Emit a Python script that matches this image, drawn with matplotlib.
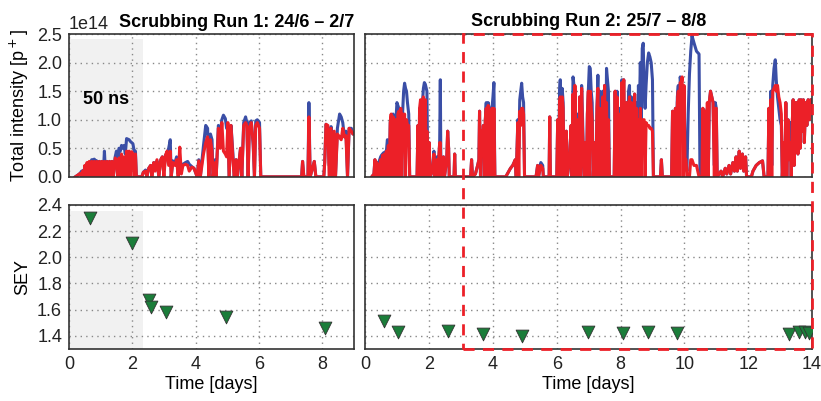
import matplotlib
matplotlib.use("Agg")
import matplotlib.pyplot as plt
from matplotlib.patches import Rectangle

# Run 1 intensity trace: time [days], blue beam, red beam (units of 1e14 p+)
t1 = [0.20, 0.28, 0.35, 0.40, 0.43, 0.47, 0.50, 0.54, 0.57, 0.61, 0.64, 0.68, 0.72, 0.76,
      0.80, 0.84, 0.88, 0.92, 0.96, 1.00, 1.04, 1.08, 1.12, 1.16, 1.20, 1.24, 1.28, 1.32,
      1.36, 1.40, 1.46, 1.50, 1.54, 1.58, 1.62, 1.66, 1.70, 1.74, 1.78, 1.82, 1.86, 1.90,
      1.94, 1.98, 2.02, 2.06, 2.10, 2.13,
      2.30, 2.35, 2.42, 2.46,
      2.52, 2.58, 2.62, 2.68, 2.72, 2.78, 2.84, 2.90, 2.95, 3.00, 3.05, 3.10, 3.15, 3.20,
      3.23, 3.28, 3.35, 3.40, 3.45, 3.50, 3.55, 3.60, 3.68, 3.75, 3.80, 3.88, 3.95, 4.05,
      4.10, 4.15, 4.25, 4.32, 4.38, 4.42, 4.47, 4.52, 4.55, 4.62, 4.65, 4.72, 4.78, 4.83,
      4.88, 4.94, 4.98, 5.02, 5.06, 5.12, 5.18, 5.22, 5.28, 5.32, 5.42, 5.46, 5.52, 5.58,
      5.62, 5.66, 5.70, 5.76, 5.82, 5.86, 5.90, 5.95, 6.02, 6.06, 7.35, 7.38, 7.42, 7.55,
      7.58, 7.62, 7.75, 7.80, 8.05, 8.08, 8.12, 8.18, 8.22, 8.28, 8.32, 8.38, 8.42, 8.48,
      8.55, 8.60, 8.65, 8.70, 8.75, 8.80, 8.85, 8.92, 8.97, 9.00]
b1 = [0, 0.03, 0.06, 0.10, 0.10, 0.12, 0.12, 0.15, 0.18, 0.20, 0.22, 0.25, 0.30, 0.30,
      0.31, 0.28, 0.28, 0.10, 0.27, 0, 0.27, 0, 0.45, 0, 0.27, 0, 0.27, 0,
      0.27, 0, 0.35, 0.45, 0, 0.50, 0.45, 0.55, 0.50, 0.55, 0.40, 0.67, 0.66, 0.65,
      0.62, 0.60, 0.58, 0.45, 0.45, 0,
      0, 0.08, 0.12, 0,
      0.15, 0.20, 0.05, 0.25, 0.15, 0.28, 0, 0.30, 0.35, 0.10, 0.38, 0.42, 0.50, 0.65,
      0, 0.28, 0.25, 0.35, 0.05, 0.30, 0.20, 0.22, 0.25, 0.27, 0.22, 0.18, 0.15, 0,
      0.30, 0, 0.55, 0.90, 0.85, 0, 0.75, 0.65, 0, 0.30, 0, 0.90, 0.75, 1.00,
      1.08, 1.02, 0.85, 0.90, 0, 0.90, 0.40, 0, 0.30, 0, 0.50, 0, 0.95, 1.05,
      0.95, 0, 0.95, 0.98, 0.55, 0, 0.98, 1.00, 0.95, 0, 0, 0.27, 0, 0,
      1.30, 0, 0.27, 0, 0, 0.25, 0.92, 0.85, 0.20, 0.88, 0, 0.75, 0, 0.85,
      1.10, 1.05, 0.95, 0.70, 0.80, 0, 0.85, 0.85, 0.75, 0.75]
r1 = [0, 0.03, 0.06, 0, 0.10, 0, 0.20, 0, 0.25, 0, 0.27, 0, 0.27, 0,
      0.27, 0, 0.27, 0, 0.27, 0, 0.27, 0, 0.27, 0, 0.27, 0, 0.27, 0,
      0.27, 0, 0.33, 0.30, 0, 0.33, 0, 0.40, 0, 0.35, 0, 0.45, 0, 0.45,
      0, 0.44, 0.40, 0, 0.40, 0,
      0, 0.08, 0.10, 0,
      0.15, 0.20, 0, 0.25, 0.10, 0.30, 0, 0.30, 0.35, 0, 0.38, 0.45, 0.20, 0.45,
      0, 0.25, 0.20, 0.30, 0, 0.52, 0.05, 0.20, 0.22, 0.20, 0.10, 0.17, 0.15, 0,
      0.28, 0, 0.40, 0.60, 0.70, 0, 0.65, 0.45, 0, 0.25, 0, 0.85, 0.50, 0.95,
      0.45, 0.40, 0.35, 0.95, 0, 0.90, 0.30, 0, 0.30, 0, 0.50, 0, 0.90, 0.95,
      0.90, 0, 0.85, 0.95, 0.60, 0, 0.90, 0.95, 0.85, 0, 0, 0.27, 0, 0,
      1.05, 0, 0.27, 0, 0, 0.25, 0.92, 0.90, 0, 0.85, 0, 0.80, 0, 0.75,
      0.70, 0.65, 0.85, 0.70, 0.72, 0, 0.85, 0.80, 0.75, 0.75]

# Run 2 intensity trace, written burst by burst
t2 = [0.20, 0.27, 0.30, 0.33, 0.36, 0.38, 0.42, 0.45, 0.48, 0.51, 0.54, 0.57, 0.60, 0.63,
      0.66, 0.69, 0.72, 0.75, 0.78, 0.81, 0.84, 0.87, 0.90, 0.93, 0.96, 0.99, 1.02, 1.05,
      1.08, 1.11, 1.14, 1.17, 1.20, 1.23, 1.26, 1.29, 1.32, 1.36, 1.39,
      1.62, 1.65, 1.68, 1.70, 1.73, 1.76, 1.79, 1.82, 1.85, 1.88, 1.91, 1.93, 1.96, 2.00,
      2.03, 2.10, 2.15, 2.17, 2.24, 2.27, 2.33, 2.35, 2.37, 2.45, 2.48, 2.55, 2.58, 2.61,
      2.63, 2.78, 2.80, 2.82,
      3.30, 3.33, 3.36, 3.45, 3.52, 3.56, 3.58, 3.61, 3.64, 3.67, 3.70, 3.73, 3.76, 3.79,
      3.82, 3.85, 3.88, 3.91, 3.94, 3.97, 4.00, 4.03, 4.06,
      4.40, 4.45, 4.55, 4.62, 4.70, 4.73, 4.78, 4.81, 4.84, 4.87, 4.90, 4.93, 4.96, 4.99,
      5.35, 5.40, 5.43, 5.50, 5.56, 5.58, 5.76, 5.78, 5.80,
      6.00, 6.03, 6.06, 6.09, 6.11, 6.14, 6.17, 6.20, 6.23, 6.26, 6.30, 6.33, 6.40, 6.45,
      6.48, 6.51, 6.54, 6.57, 6.60, 6.63, 6.66, 6.69, 6.72, 6.75, 6.78, 6.81, 6.84, 6.87,
      6.90, 6.93, 6.96, 6.99, 7.02, 7.05, 7.08, 7.11, 7.14,
      7.20, 7.23, 7.26, 7.29, 7.32, 7.35, 7.38, 7.41, 7.44, 7.47, 7.50, 7.53, 7.56, 7.59,
      7.62, 7.65,
      7.80, 7.83, 7.86, 7.89, 7.92, 7.95, 7.98, 8.01, 8.04, 8.07, 8.10, 8.13, 8.16, 8.19,
      8.22, 8.25, 8.28, 8.31, 8.34, 8.37, 8.40, 8.44, 8.47, 8.50, 8.53, 8.56, 8.59, 8.62,
      8.65, 8.68, 8.71, 8.74, 8.77, 8.80, 8.84, 8.88, 8.92, 8.96, 9.00, 9.03, 9.25, 9.28,
      9.31,
      9.60, 9.63, 9.66, 9.69, 9.72, 9.75, 9.78, 9.81, 9.84, 9.87, 9.90, 9.93, 9.96, 9.99,
      10.02, 10.05, 10.08, 10.12, 10.16, 10.20, 10.24, 10.30, 10.38, 10.46, 10.49,
      10.55, 10.58, 10.61, 10.65, 10.68, 10.72, 10.75, 10.78, 10.82, 10.86, 10.90, 10.94, 10.97, 11.00,
      11.03,
      11.15, 11.20, 11.28, 11.33, 11.40, 11.45, 11.52, 11.57, 11.62, 11.66, 11.72, 11.76, 11.82, 11.86,
      11.92, 11.95, 12.10, 12.15, 12.25, 12.35, 12.45, 12.50,
      12.62, 12.65, 12.68, 12.71, 12.74, 12.77, 12.81, 12.85, 12.88, 12.92, 12.96, 13.00, 13.04, 13.07,
      13.12, 13.15, 13.18, 13.21, 13.25, 13.28, 13.32, 13.35, 13.38, 13.41, 13.44, 13.47, 13.50, 13.53,
      13.56, 13.60, 13.63, 13.66, 13.70, 13.73, 13.76, 13.80, 13.84, 13.88, 13.92, 13.96, 14.00]
b2 = [0, 0.05, 0.30, 0, 0.25, 0, 0.25, 0.30, 0.35, 0.38, 0.40, 0.42, 0.42, 0.44,
      0.45, 0.65, 0.60, 0, 0.95, 1.05, 0.5, 1.1, 1.0, 0, 1.0, 1.3, 1.25, 1.2,
      0.3, 1.1, 0, 1.15, 1.5, 1.64, 1.55, 1.5, 1.3, 1.1, 0,
      0, 0.9, 0, 1.2, 0.6, 0.3, 1.3, 1.55, 1.65, 1.62, 1.55, 1.5, 0, 0.6,
      0, 0.1, 0.45, 0, 0.35, 0, 0.6, 1.7, 0, 0.35, 0, 0.3, 0.8, 0.5,
      0, 0, 0.4, 0,
      0, 0.3, 0, 0.05, 0.2, 0.3, 1.15, 0, 0.8, 0.5, 0.9, 0, 1.0, 1.3,
      0, 1.3, 1.2, 1.2, 0, 1.2, 1.4, 1.65, 0,
      0, 0.05, 0.15, 0.2, 0.3, 0, 1.0, 0.5, 1.35, 1.5, 1.64, 1.4, 1.3, 0,
      0, 0.2, 0, 0.25, 0.2, 0, 0, 1.05, 0,
      0, 1.0, 0.4, 1.5, 1.7, 0.3, 1.55, 1.3, 0.1, 0.2, 0.8, 0, 0.3, 0.9,
      0, 1.75, 1.6, 1.5, 0.4, 0, 1.1, 0.3, 1.4, 0, 1.6, 1.0, 0.3, 0,
      0.6, 0, 1.1, 1.5, 1.93, 1.9, 1.5, 1.3, 0,
      0.6, 0, 1.2, 1.78, 0.4, 1.5, 0.3, 0, 1.5, 0.5, 1.6, 0, 1.9, 1.7,
      1.5, 0,
      0, 1.5, 0.2, 1.5, 0.3, 0, 1.2, 0.3, 1.7, 1.5, 1.7, 0.2, 0, 1.3,
      0, 1.5, 1.6, 0.3, 1.4, 0.1, 0, 1.45, 0.5, 1.3, 0.4, 1.6, 1.2, 2.0,
      1.0, 2.25, 2.34, 1.5, 1.2, 1.6, 2.0, 2.17, 2.1, 2.0, 1.7, 0, 0, 0.3,
      0,
      0, 1.15, 0.5, 0, 1.2, 0.6, 1.4, 1.6, 0.3, 1.75, 1.6, 1.55, 1.5, 1.5,
      0.5, 0.3, 0.1, 1.1, 1.8, 2.2, 2.47, 2.35, 2.2, 2.15, 0,
      0, 1.2, 0, 1.15, 0.3, 1.2, 0, 1.3, 1.5, 1.4, 1.3, 0.2, 1.3, 1.2,
      0,
      0.1, 0, 0.15, 0.05, 0.2, 0.05, 0.25, 0.1, 0.35, 0.1, 0.45, 0.15, 0.4, 0.1,
      0.35, 0, 0, 0.1, 0.2, 0.25, 0.28, 0,
      0, 1.2, 0.3, 1.5, 0.2, 1.6, 1.9, 2.05, 1.7, 1.4, 1.2, 1.0, 0.9, 0,
      0.6, 0, 1.3, 0, 1.0, 0.3, 0.95, 0, 0.9, 1.35, 0.2, 1.3, 0.6, 1.3,
      0.4, 1.35, 0.5, 1.35, 0.8, 1.35, 0.6, 1.3, 0.9, 1.35, 1.0, 1.35, 1.35]
r2 = [0, 0.05, 0.30, 0, 0.25, 0, 0.22, 0, 0.30, 0, 0.38, 0, 0.40, 0,
      0.45, 0, 0.55, 0, 0.95, 1.1, 0, 1.05, 1.0, 0, 1.0, 0, 1.1, 1.15,
      0, 1.2, 0, 1.1, 0.6, 1.1, 0, 1.0, 0.9, 0.9, 0,
      0, 0.9, 0, 1.2, 1.35, 0, 1.3, 1.4, 0, 1.35, 0, 0.8, 0, 0.6,
      0, 0.1, 0.4, 0, 0.3, 0, 0.6, 0.6, 0, 0.35, 0, 0.3, 0.8, 0.5,
      0, 0, 0.4, 0,
      0, 0.3, 0, 0.05, 0.2, 0.3, 1.15, 0, 0.8, 0.4, 0.9, 0, 1.0, 1.2,
      0, 1.25, 0, 1.1, 0, 1.2, 0, 1.2, 0,
      0, 0.05, 0.15, 0.2, 0.3, 0, 0.95, 0, 1.15, 0.9, 1.2, 1.2, 1.1, 0,
      0, 0.2, 0, 0.2, 0.15, 0, 0, 1.05, 0,
      0, 1.0, 0, 1.3, 1.4, 0, 1.4, 1.2, 0, 0.1, 0.8, 0, 0.3, 0.9,
      0, 1.45, 0, 1.6, 0.5, 0, 1.0, 0, 1.4, 0, 1.55, 0.8, 0.3, 0,
      0.6, 0, 1.1, 1.5, 0, 1.5, 1.2, 1.0, 0,
      0.6, 0, 1.2, 1.55, 0, 1.2, 0.3, 0, 1.4, 0, 1.6, 0, 1.3, 0,
      1.0, 0,
      0, 1.5, 0, 1.4, 0.2, 0, 1.1, 0, 1.65, 0, 1.7, 0.1, 0, 1.3,
      0, 1.2, 1.4, 0, 1.3, 0.1, 0, 1.45, 0, 1.2, 0, 1.0, 0, 1.2,
      0, 1.0, 1.0, 1.0, 0, 0.95, 0.9, 0.9, 0.85, 0.85, 0.8, 0, 0, 0.3,
      0,
      0, 1.15, 0.5, 0, 1.2, 0, 1.3, 1.5, 0, 1.65, 1.6, 1.75, 0, 1.6,
      0.3, 0.3, 0, 0, 0, 0.3, 0.3, 0.2, 0.2, 0, 0,
      0, 1.2, 0, 1.15, 0, 1.3, 0, 1.3, 1.5, 1.4, 1.3, 0, 1.2, 1.2,
      0,
      0.1, 0, 0.15, 0.05, 0.2, 0.05, 0.25, 0.1, 0.35, 0.1, 0.45, 0.15, 0.4, 0.1,
      0.35, 0, 0, 0.1, 0.2, 0.25, 0.28, 0,
      0, 1.2, 0, 1.35, 0, 1.5, 1.55, 1.6, 1.5, 1.6, 1.4, 1.3, 1.1, 0,
      0.6, 0, 1.3, 0, 1.0, 0.3, 0.6, 0, 0.9, 1.35, 0.2, 1.3, 0.6, 1.3,
      0.4, 1.35, 0.5, 1.35, 0.8, 1.35, 0.6, 1.3, 0.9, 1.35, 1.0, 1.35, 1.35]

# SEY estimates
sey1_t = [0.66, 1.98, 2.53, 2.58, 3.06, 4.95, 8.10]
sey1 = [2.30, 2.11, 1.67, 1.62, 1.58, 1.54, 1.46]
sey2_t = [0.57, 1.01, 2.58, 3.68, 4.91, 6.97, 8.08, 8.86, 9.77, 13.27, 13.58, 13.79, 13.90]
sey2 = [1.51, 1.43, 1.44, 1.41, 1.40, 1.43, 1.42, 1.43, 1.42, 1.41, 1.43, 1.43, 1.42]

BLUE = "#3a4ea6"
RED = "#ec2028"
GREEN = "#1b7d3a"
SHADE = "#f1f1f1"
FS = 13

plt.rcParams["font.family"] = ["Liberation Sans", "DejaVu Sans"]
fig = plt.figure(figsize=(8.21, 4.01), dpi=100)

L, M, R = 0.084, 0.445, 0.989
W1, W2 = 0.431 - L, R - M
TOP_Y, TOP_H = 0.559, 0.356
BOT_Y, BOT_H = 0.130, 0.359
ax1 = fig.add_axes([L, TOP_Y, W1, TOP_H])
ax2 = fig.add_axes([M, TOP_Y, W2, TOP_H])
ax3 = fig.add_axes([L, BOT_Y, W1, BOT_H])
ax4 = fig.add_axes([M, BOT_Y, W2, BOT_H])

for ax in (ax1, ax2, ax3, ax4):
    ax.grid(True, linestyle=(0, (1, 3)), color="#888888", linewidth=1)
    ax.set_axisbelow(True)
    ax.tick_params(length=0, labelsize=FS, pad=5, colors="#222222")
    for s in ax.spines.values():
        s.set_color("#333333")
        s.set_linewidth(1.2)

# intensity panels
ax1.fill_between([0, 2.35], 0, 2.42, color=SHADE, zorder=0, linewidth=0)
ax1.plot(t1, b1, color=BLUE, lw=2.2)
ax1.plot(t1, r1, color=RED, lw=2.2)
ax2.plot(t2, b2, color=BLUE, lw=2.2)
ax2.plot(t2, r2, color=RED, lw=2.2)
for ax in (ax1, ax2):
    ax.set_ylim(0, 2.5)
    ax.set_yticks([0, 0.5, 1.0, 1.5, 2.0, 2.5])
    ax.set_xticklabels([])
ax1.set_yticklabels(["0.0", "0.5", "1.0", "1.5", "2.0", "2.5"])
ax2.set_yticklabels([])
ax1.text(0.0, 1.01, "1e14", transform=ax1.transAxes, fontsize=FS, color="#222222",
         ha="left", va="bottom")
ax1.text(0.45, 1.35, "50 ns", fontsize=FS, fontweight="bold", va="center")
ax1.set_ylabel("Total intensity [p$^+$]", fontsize=FS)
ax1.set_title("Scrubbing Run 1: 24/6 \u2013 2/7", fontsize=FS, fontweight="bold", pad=5, loc="right")
ax2.set_title("Scrubbing Run 2: 25/7 \u2013 8/8", fontsize=FS, fontweight="bold", pad=6)

# SEY panels
ax3.fill_between([0, 2.35], 1.3, 2.35, color=SHADE, zorder=0, linewidth=0)
ax3.scatter(sey1_t, sey1, marker="v", s=85, color=GREEN, edgecolor="#333333", linewidth=0.6, zorder=3)
ax4.scatter(sey2_t, sey2, marker="v", s=85, color=GREEN, edgecolor="#333333", linewidth=0.6, zorder=3)
for ax in (ax3, ax4):
    ax.set_ylim(1.3, 2.4)
    ax.set_yticks([1.4, 1.6, 1.8, 2.0, 2.2, 2.4])
    ax.set_xlabel("Time [days]", fontsize=FS, labelpad=2)
ax4.set_yticklabels([])
ax3.set_ylabel("SEY", fontsize=FS)

ax1.set_xlim(0, 9)
ax3.set_xlim(0, 9)
ax1.set_xticks([0, 2, 4, 6, 8])
ax3.set_xticks([0, 2, 4, 6, 8])
ax2.set_xlim(0, 14)
ax4.set_xlim(0, 14)
ax2.set_xticks(range(0, 15, 2))
ax4.set_xticks(range(0, 15, 2))

# dashed red box over the later part of run 2
inv = fig.transFigure.inverted()
x0 = inv.transform(ax2.transData.transform((3.07, 0)))[0]
x1 = inv.transform(ax2.transData.transform((14, 0)))[0]
y_top = TOP_Y + TOP_H
y_bot = BOT_Y
fig.patches.append(Rectangle((x0, y_bot), x1 - x0, y_top - y_bot, transform=fig.transFigure,
                             fill=False, edgecolor=RED, linestyle=(0, (4, 3)), linewidth=2,
                             zorder=10))

fig.savefig("out.png", dpi=100)
